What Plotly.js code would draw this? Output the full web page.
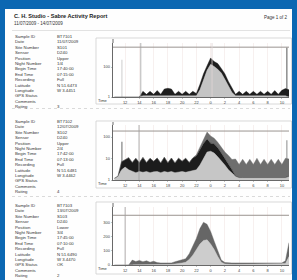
<!DOCTYPE html>
<html>
<head>
<meta charset="utf-8">
<script src="https://cdn.plot.ly/plotly-3.0.1.min.js"></script>
<style>html,body{margin:0;padding:0;background:#0b67b2;}#chart{width:297px;height:280px;}</style>
</head>
<body>
<div id="chart"></div>
<script>
// ---------- data ----------
const hours = [-1.5,-1,-0.5,0,0.5,1,1.5,2,2.5,3,3.5,4,4.5,5,5.5,6,6.5,7,7.5,8,8.5,9,9.5,10,10.5,11,11.5,12,12.5,13,13.5,14,14.5,15,15.5,16,16.5,17,17.5,18,18.5,19,19.5,20,20.5,21,21.5,22,22.5,23];
const hourTicks = [0,2,4,6,8,10,12,14,16,18,20,22];
const hourLabels = ["12","14","16","18","20","22","0","2","4","6","8","10"];

const p1Light = [1,1,1,1,1,1,1,1,
  1.2,1.2,1.2,1.2,1.2,1.2,1.2,1.2,1.2,1.2,1.2,1.2,1.2,1.2,1.2,1.2,
  3,15,60,150,110,70,40,15,5,2,
  1.2,1.2,1.2,1.2,1.2,1.2,1.2,1.2,1.2,1.2,1.2,1.2,1.2,1.2,1.2,
  1];
const p1Black = [0,0,0,0,0,0,0,0,
  1.2,0.3,1.2,0.3,1.5,0.3,2.2,2.6,2.2,0.3,1.2,0.3,1.2,0.3,1.2,0.5,
  4,20,60,250,120,100,40,20,6,2,
  0.3,1.2,0.3,1.2,0.3,1.2,0.3,1.2,0.3,1.2,0.3,1.5,0.3,1.6,2.5,
  2];

const p2Light = [1.2,1.5,3,4,3,
  2.5,2.2,2.5,2.3,2.5,2.2,2.4,2.5,2.2,2.5,2.3,2.5,2.2,2.4,2.5,2.3,2.5,2.6,
  3,5,10,20,22,18,12,8,5,3,2,1.5,
  1.3,1.3,1.3,1.3,1.3,1.3,1.3,1.3,1.3,1.3,1.3,1.3,1.3,1.3,
  1.5];
const p2Black = [0,0,4,5,8,
  4,8,4,9,4,8,5,8,4,9,4,8,4,8,5,8,4,8,
  10,20,40,60,30,30,20,10,5,3,1,0,
  0,0,0,0,0,0,0,0,0,0,0,0,0,0,
  0];
const p2Mid = [0,0,0,0,0,0,0,0,0,0,0,0,0,0,0,0,0,0,0,0,0,0,0,
  2,10,30,90,60,40,25,15,10,8,6,8,
  4,8,4,8,4,9,4,8,4,8,4,8,4,9,
  8];

const p3Light = [0,0,0,0,0,
  5,5,5,5,5,5,5,5,5,5,5,5,
  8,10,15,20,40,70,110,150,175,180,150,110,60,20,8,
  5,5,5,5,5,5,5,5,5,5,5,5,5,5,5,5,
  10,60];
const p3Dark = [0,0,0,0,0,
  30,20,28,18,25,15,22,12,
  10,10,10,10,
  15,20,20,25,40,60,80,110,130,110,90,60,35,15,10,
  10,10,10,10,10,10,10,10,10,10,10,10,10,10,10,10,
  20,100];

// narrow spikes (hour, value) per panel
const spikeHours = [-0.45, 22.7];
const p1Spikes = [300, 2000];
const p2Spikes = [60, 70];

const thresholds = [2100, 190, 355];
const nightMarks = [[2.2, 12.2], [1.95], [0]];

const reportTitle = "C. H. Studio - Sabre Activity Report";
const reportDates = "11/07/2009 - 14/07/2009";
const pageLabel = "Page 1 of 2";
const fieldLabels = ["Sample ID","Date","Site Number","Sensor","Position","Night Number","Begin Time","End Time","Recording","Latitude","Longitude","GPS Status","Comments","Rating"];
const values1 = ["BT7101","11/07/2009","S101","D240","Upper","1/4","17:40:00","07:15:00","Full","N 51.6473","W 3.4451","","","3"];
const values2 = ["BT7102","12/07/2009","S102","D240","Upper","2/4","17:42:00","07:13:00","Full","N 51.6481","W 3.4462","","","4"];
const values3 = ["BT7103","13/07/2009","S103","D240","Lower","3/4","17:45:00","07:10:00","Full","N 51.6490","W 3.4470","OK","","2"];
const timeLabel = "Time";

// ---------- layout helpers ----------
const W = 297, H = 280;
const px = v => v / W;
const py = v => 1 - v / H;
const FONT = "Liberation Sans, Arial, sans-serif";

const xDom = [px(113), px(289)];
const panels = [
  {yTop: 43, yBot: 97, boxTop: 38, boxBot: 104, rowStart: 36.5},
  {yTop: 125, yBot: 180, boxTop: 121, boxBot: 188, rowStart: 121.5},
  {yTop: 207, yBot: 265, boxTop: 202, boxBot: 274, rowStart: 205.5}
];
const rowStep = 5.4;

const traces = [];
function area(x, y, color, xa, ya, group) {
  return {x: x, y: y, type: 'scatter', mode: 'lines', stackgroup: group,
    line: {color: color, width: 0.4, shape: 'linear'}, fillcolor: color,
    xaxis: xa, yaxis: ya, hoverinfo: 'skip', showlegend: false};
}
function spikes(y, colors, xa, ya) {
  return {x: spikeHours, y: y, type: 'bar', width: 0.16, marker: {color: colors, line: {width: 0}},
    xaxis: xa, yaxis: ya, hoverinfo: 'skip', showlegend: false};
}
traces.push(area(hours, p1Light, '#c4c4c4', 'x', 'y', 'g1'));
traces.push(area(hours, p1Black, '#1e1e1e', 'x', 'y', 'g1'));
traces.push(spikes(p1Spikes, ['#d4d4d4', '#6a6a6a'], 'x', 'y'));
traces.push(area(hours, p2Light, '#c6c6c6', 'x2', 'y2', 'g2'));
traces.push(area(hours, p2Black, '#1c1c1c', 'x2', 'y2', 'g2'));
traces.push(area(hours, p2Mid, '#6e6e6e', 'x2', 'y2', 'g2'));
traces.push(spikes(p2Spikes, ['#7a7a7a', '#9a9a9a'], 'x2', 'y2'));
traces.push(area(hours, p3Light, '#cdcdcd', 'x3', 'y3', 'g3'));
traces.push(area(hours, p3Dark, '#666666', 'x3', 'y3', 'g3'));

const shapes = [];
const annotations = [];
shapes.push({type: 'rect', xref: 'paper', yref: 'paper', x0: px(5), x1: px(292), y0: -0.05, y1: py(9),
  fillcolor: '#fefefe', line: {width: 0}, layer: 'below'});
shapes.push({type: 'line', xref: 'paper', yref: 'paper', x0: px(12), x1: px(290), y0: py(30.5), y1: py(30.5),
  line: {color: '#e2e2e2', width: 1}});
[108.5, 196.5].forEach(v => shapes.push({type: 'line', xref: 'paper', yref: 'paper', x0: px(12), x1: px(290),
  y0: py(v), y1: py(v), line: {color: '#d0d0d0', width: 0.8, dash: 'dot'}}));

const axKeys = ['', '2', '3'];
panels.forEach((p, k) => {
  shapes.push({type: 'rect', xref: 'paper', yref: 'paper', x0: px(96), x1: px(291.5), y0: py(p.boxBot), y1: py(p.boxTop),
    fillcolor: '#ffffff', line: {color: '#cfcfcf', width: 0.8}, layer: 'below'});
  const xr = 'x' + axKeys[k], yr = 'y' + axKeys[k];
  shapes.push({type: 'line', xref: xr + ' domain', yref: yr, x0: 0, x1: 1, y0: thresholds[k], y1: thresholds[k],
    line: {color: '#9a9490', width: 1}});
  nightMarks[k].forEach((m, j) => shapes.push({type: 'line', xref: xr, yref: yr + ' domain', x0: m, x1: m, y0: 0, y1: 1,
    line: {color: j === 0 ? '#a0a0a0' : '#e0d6d6', width: 0.8}}));
  shapes.push({type: 'line', xref: 'paper', yref: 'paper', x0: px(113), x1: px(113), y0: py(p.yTop), y1: py(p.boxTop + 1),
    line: {color: '#444', width: 0.8}});
  annotations.push({xref: 'paper', yref: 'paper', x: px(103), y: py(p.yBot + 3.5), text: timeLabel, showarrow: false,
    xanchor: 'center', yanchor: 'middle', font: {family: FONT, size: 4, color: '#333'}});
  const vals = [values1, values2, values3][k];
  fieldLabels.forEach((lab, r) => {
    const yy = py(p.rowStart + r * rowStep);
    annotations.push({xref: 'paper', yref: 'paper', x: px(13), y: yy, text: lab, showarrow: false,
      xanchor: 'left', yanchor: 'middle', font: {family: FONT, size: 4.3, color: '#333'}});
    if (vals[r]) annotations.push({xref: 'paper', yref: 'paper', x: px(55), y: yy, text: vals[r], showarrow: false,
      xanchor: 'left', yanchor: 'middle', font: {family: FONT, size: 4.3, color: '#333'}});
  });
});

annotations.push({xref: 'paper', yref: 'paper', x: px(12), y: py(16), text: '<b>' + reportTitle + '</b>', showarrow: false,
  xanchor: 'left', yanchor: 'middle', font: {family: FONT, size: 5.6, color: '#222'}});
annotations.push({xref: 'paper', yref: 'paper', x: px(12), y: py(23), text: reportDates, showarrow: false,
  xanchor: 'left', yanchor: 'middle', font: {family: FONT, size: 4.5, color: '#333'}});
annotations.push({xref: 'paper', yref: 'paper', x: px(290), y: py(17), text: pageLabel, showarrow: false,
  xanchor: 'right', yanchor: 'middle', font: {family: FONT, size: 4.5, color: '#333'}});

function xAxis(k) {
  return {domain: xDom, range: [-1.7, 23], anchor: 'y' + axKeys[k], tickmode: 'array', tickvals: hourTicks, ticktext: hourLabels,
    showgrid: true, gridcolor: '#f1e6e4', gridwidth: 0.6, zeroline: false, showline: true, linecolor: '#444', linewidth: 0.8,
    ticks: 'outside', ticklen: 1.5, tickcolor: '#888', tickwidth: 0.5,
    tickfont: {family: FONT, size: 4, color: '#444'}, fixedrange: true};
}
function yAxis(k, type, range, tv) {
  const p = panels[k];
  return {domain: [py(p.yBot), py(p.yTop)], type: type, range: range, anchor: 'x' + axKeys[k],
    tickmode: 'array', tickvals: tv, ticktext: tv.map(String), showgrid: false, zeroline: false,
    showline: true, linecolor: '#444', linewidth: 0.8, ticks: 'outside', ticklen: 1.5, tickcolor: '#888', tickwidth: 0.5,
    tickfont: {family: FONT, size: 4, color: '#444'}, fixedrange: true};
}

const layout = {
  width: W, height: H, margin: {l: 0, r: 0, t: 0, b: 0},
  paper_bgcolor: '#0b67b2', plot_bgcolor: '#fffcf7',
  showlegend: false, font: {family: FONT}, barmode: 'overlay',
  xaxis: xAxis(0), xaxis2: xAxis(1), xaxis3: xAxis(2),
  yaxis: yAxis(0, 'log', [0, 3.6], [1, 100]),
  yaxis2: yAxis(1, 'log', [0, 2.56], [1, 10, 100]),
  yaxis3: yAxis(2, 'linear', [0, 414], [0, 100, 200, 300]),
  shapes: shapes, annotations: annotations
};

Plotly.newPlot('chart', traces, layout, {staticPlot: true, displayModeBar: false});
</script>
</body>
</html>
